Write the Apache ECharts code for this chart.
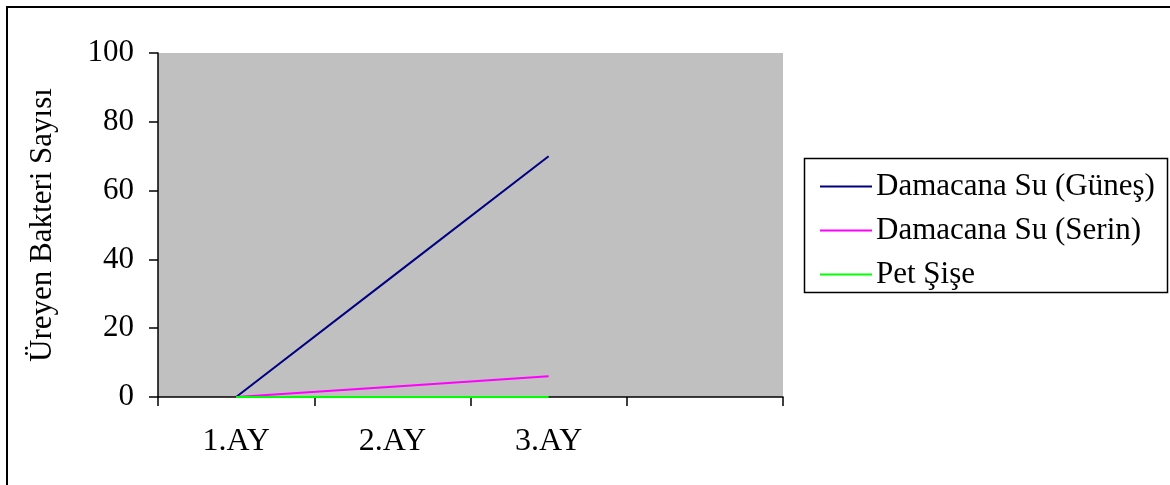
<!DOCTYPE html>
<html>
<head>
<meta charset="utf-8">
<script src="https://cdn.jsdelivr.net/npm/echarts@6/dist/echarts.min.js"></script>
<style>
  html, body { margin: 0; padding: 0; background: #fff; }
  #chart { width: 1170px; height: 485px; }
</style>
</head>
<body>
<div id="chart"></div>
<script>
// Months on the category axis (a fourth, empty slot stays open on the right)
const months = ['1.AY', '2.AY', '3.AY', ''];
const yTicks = { min: 0, max: 100, interval: 20 };

// Bacteria counts per storage type
const gunes = [0, 35, 70];
const serin = [0, 3, 6];
const petSise = [0, 0, 0];

const seriesNames = ['Damacana Su (Güneş)', 'Damacana Su (Serin)', 'Pet Şişe'];
const seriesColors = ['#000080', '#ff00ff', '#00ff00'];
const seriesData = [gunes, serin, petSise];

const FONT = '"Liberation Serif", "DejaVu Serif", serif';
const FS = 31;
const chart = echarts.init(document.getElementById('chart'));

chart.setOption({
  animation: false,
  backgroundColor: '#ffffff',
  textStyle: { fontFamily: FONT, color: '#000' },
  graphic: [
    { type: 'rect', shape: { x: 7, y: 7, width: 1175, height: 490 },
      style: { fill: 'none', stroke: '#000', lineWidth: 2 }, silent: true },
    { type: 'rect', shape: { x: 804.5, y: 158.5, width: 363, height: 134 },
      style: { fill: '#fff', stroke: '#000', lineWidth: 1.5 }, silent: true, z: 0 }
  ],
  grid: {
    left: 158, right: 387, top: 53, bottom: 88,
    show: true, backgroundColor: '#c0c0c0', borderWidth: 0
  },
  legend: {
    orient: 'vertical',
    left: 815, top: 166,
    itemWidth: 52, itemHeight: 2, itemGap: 13,
    icon: 'rect',
    textStyle: { fontFamily: FONT, fontSize: FS, color: '#000', padding: [0, 0, 0, -1] },
    data: seriesNames.map(n => ({ name: n }))
  },
  xAxis: {
    type: 'category',
    data: months,
    boundaryGap: true,
    axisLine: { lineStyle: { color: '#000', width: 1.5 } },
    axisTick: { show: true, length: 9, inside: false, lineStyle: { color: '#000', width: 1.5 } },
    axisLabel: { margin: 29, fontFamily: FONT, fontSize: 32, color: '#000' },
    splitLine: { show: false }
  },
  yAxis: {
    type: 'value',
    min: yTicks.min, max: yTicks.max, interval: yTicks.interval,
    name: 'Üreyen Bakteri Sayısı',
    nameLocation: 'middle',
    nameGap: 100,
    nameRotate: 90,
    nameTextStyle: { fontFamily: FONT, fontSize: FS, color: '#000' },
    axisLine: { show: true, lineStyle: { color: '#000', width: 1.5 } },
    axisTick: { show: true, length: 9, inside: false, lineStyle: { color: '#000', width: 1.5 } },
    axisLabel: { margin: 24, fontFamily: FONT, fontSize: FS, color: '#000' },
    splitLine: { show: false }
  },
  series: seriesNames.map((name, i) => ({
    name,
    type: 'line',
    data: seriesData[i],
    symbol: 'none',
    color: seriesColors[i],
    lineStyle: { color: seriesColors[i], width: 2 },
    z: 3 + i
  }))
});
</script>
</body>
</html>
